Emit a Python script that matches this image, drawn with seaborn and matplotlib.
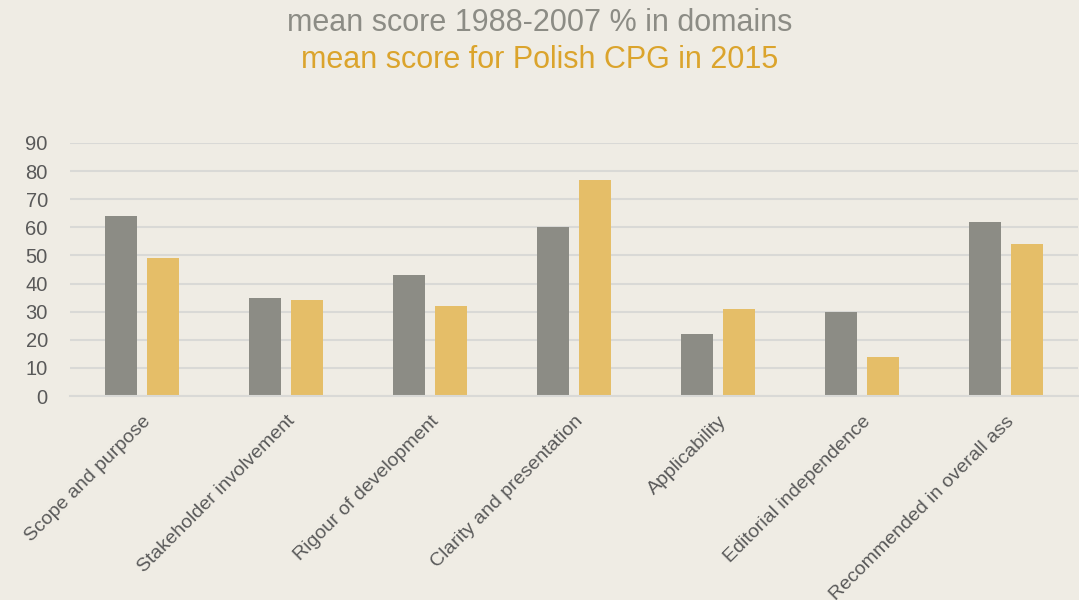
import matplotlib
matplotlib.use("Agg")
import matplotlib.pyplot as plt
import seaborn as sns
import pandas as pd

domains = [
    "Scope and purpose",
    "Stakeholder involvement",
    "Rigour of development",
    "Clarity and presentation",
    "Applicability",
    "Editorial independence",
    "Recommended in overall ass",
]
series_names = ["mean score 1988-2007 % in domains", "mean score for Polish CPG in 2015"]
score_1988_2007 = [64, 35, 43, 60, 22, 30, 62]
score_2015 = [49, 34, 32, 77, 31, 14, 54]
y_ticks = [0, 10, 20, 30, 40, 50, 60, 70, 80, 90]

BG = "#EFECE4"
GRAY = "#8C8C85"
GOLD = "#E5BE68"
TITLE_GOLD = "#DBA42C"
TEXT = "#595959"

df = pd.DataFrame({
    "domain": domains * 2,
    "series": [series_names[0]] * len(domains) + [series_names[1]] * len(domains),
    "score": score_1988_2007 + score_2015,
})

sns.set_theme(style="white")
plt.rcParams["font.family"] = ["Liberation Sans", "DejaVu Sans"]

fig = plt.figure(figsize=(10.79, 6.0), dpi=100)
fig.patch.set_facecolor(BG)
ax = fig.add_axes([70 / 1079, 1 - 396 / 600, 1008 / 1079, 253 / 600])
ax.set_facecolor(BG)

sns.barplot(
    data=df, x="domain", y="score", hue="series",
    palette=[GRAY, GOLD], saturation=1, width=0.57, gap=0.22,
    edgecolor="none", legend=False, ax=ax,
)

ax.set_ylim(0, 90)
ax.set_xlim(-0.5, len(domains) - 0.5)
ax.set_yticks(y_ticks)
ax.yaxis.grid(True, color="#D9D9D6", linewidth=1.5)
ax.set_axisbelow(True)
for side in ["top", "right", "left"]:
    ax.spines[side].set_visible(False)
ax.spines["bottom"].set_color("#D9D9D6")
ax.spines["bottom"].set_linewidth(1.5)
ax.set_xlabel("")
ax.set_ylabel("")
ax.tick_params(axis="y", colors=TEXT, labelsize=14.5, length=0, pad=16)
ax.tick_params(axis="x", colors=TEXT, labelsize=14, length=0, pad=12)
plt.setp(ax.get_xticklabels(), rotation=45, ha="right", rotation_mode="anchor")

fig.text(0.5, 1 - 23 / 600, series_names[0], color=GRAY, fontsize=22,
         ha="center", va="center")
fig.text(0.5, 1 - 60 / 600, series_names[1], color=TITLE_GOLD, fontsize=22,
         ha="center", va="center")

fig.savefig("out.png", dpi=100, facecolor=BG)
